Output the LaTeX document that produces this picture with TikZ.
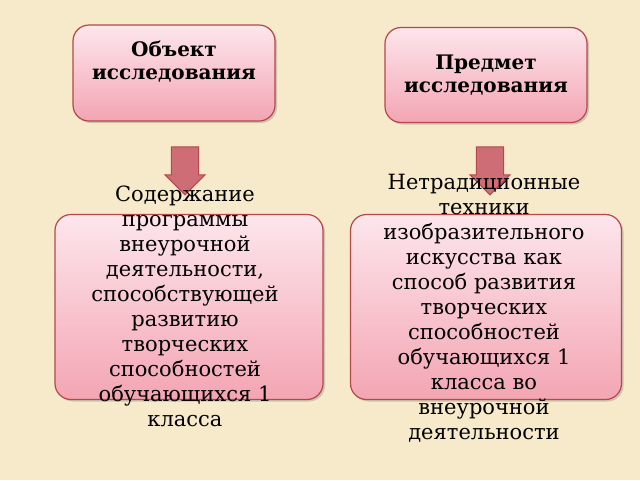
\documentclass[tikz,border=0pt]{standalone}
\usepackage{fontspec}
\setmainfont{DejaVu Serif}
\usetikzlibrary{shadows,shapes.arrows}
\definecolor{parch}{HTML}{F6EACB}
\definecolor{bord}{HTML}{B5484B}
\definecolor{ptop}{HTML}{FDE6EC}
\definecolor{pbot}{HTML}{F3A5B3}
\tikzset{
 box/.style={draw=bord,line width=1.2pt,rounded corners=16pt,top color=ptop,bottom color=pbot,drop shadow={opacity=0.35,shadow xshift=2pt,shadow yshift=-2pt}},
 ttl/.style={font=\bfseries\fontsize{20}{23}\selectfont,align=center},
 txt/.style={font=\fontsize{21}{25}\selectfont,align=center},
 darr/.style={single arrow,draw=bord,line width=1pt,fill=bord!60!pbot,shape border rotate=270,minimum height=48pt,minimum width=40pt,single arrow head extend=4pt,single arrow tip angle=90,inner sep=8pt}
}
\begin{document}
\begin{tikzpicture}[x=1pt,y=-1pt]
\useasboundingbox (0,0) rectangle (640,480);
\fill[parch] (0,0) rectangle (640,480);
\node[box,minimum width=202pt,minimum height=96pt] (b1) at (174,73) {};
\node[box,minimum width=202pt,minimum height=95pt] (b2) at (486,75) {};
\node[box,minimum width=268pt,minimum height=185pt] (b3) at (189,307) {};
\node[box,minimum width=271pt,minimum height=185pt] (b4) at (486,307) {};
\node[ttl] (t1) at (174,62) {Объект\\исследования};
\node[ttl] (t2) at (486,75) {Предмет\\исследования};
\node[darr] (a1) at (185,164) {};
\node[darr] (a2) at (490,164) {};
\node[txt] (t3) at (185,306) {Содержание\\программы\\внеурочной\\деятельности,\\способствующей\\развитию\\творческих\\способностей\\обучающихся 1\\класса};
\node[txt] (t4) at (484,308) {Нетрадиционные\\техники\\изобразительного\\искусства как\\способ развития\\творческих\\способностей\\обучающихся 1\\класса во\\внеурочной\\деятельности};
\end{tikzpicture}
\end{document}
